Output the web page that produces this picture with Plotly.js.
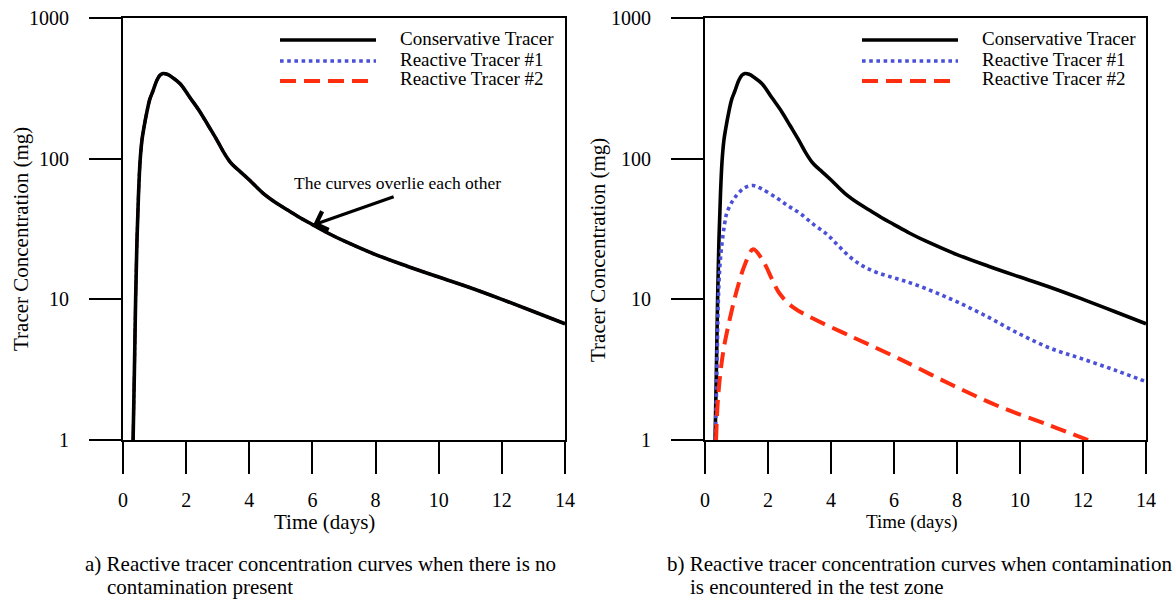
<!DOCTYPE html>
<html>
<head>
<meta charset="utf-8">
<script src="https://cdn.plot.ly/plotly-3.0.1.min.js"></script>
<style>html,body{margin:0;padding:0;background:#fff;}#chart{width:1175px;height:600px;}</style>
</head>
<body>
<div id="chart"></div>
<script>
// ---- data ----
const xTicks = [0, 2, 4, 6, 8, 10, 12, 14];
const yTickVals = [1, 10, 100, 1000];
const yTickText = ['1', '10', '100', '1000'];
const seriesNames = ['Conservative Tracer', 'Reactive Tracer #1', 'Reactive Tracer #2'];

const daysCons = [0.32, 0.36, 0.40, 0.44, 0.49, 0.54, 0.60, 0.65, 0.76, 0.85, 0.95, 1.07, 1.17, 1.27, 1.40, 1.55, 1.81, 2.12, 2.44, 2.70, 2.98, 3.20, 3.39, 3.55, 3.71, 4.02, 4.43, 4.88, 5.30, 5.61, 6.0, 6.5, 7.0, 8.0, 9.0, 10, 11, 12, 13, 14];
const concCons = [1, 3, 10, 25, 55, 95, 135, 160, 217, 265, 303, 360, 392, 403, 398, 380, 341, 272, 215, 172, 135, 110, 95, 87, 81, 70, 57, 48, 42, 38, 34, 29.5, 26, 20.8, 17.2, 14.4, 12.1, 10, 8.2, 6.7];

const daysR1 = [0.32, 0.36, 0.39, 0.42, 0.47, 0.54, 0.62, 0.69, 0.85, 1.01, 1.25, 1.53, 1.80, 2.28, 2.65, 3.02, 3.45, 3.87, 4.20, 4.60, 5.00, 5.46, 6.10, 6.73, 7.78, 8.83, 9.9, 10.95, 12.0, 13.08, 14];
const concR1 = [1, 2, 4.5, 9.3, 17, 25, 34, 41, 49, 55, 62, 64.4, 61, 52.5, 46, 40.8, 34, 29, 24.5, 20, 17.3, 15.5, 14, 12.6, 10.1, 7.8, 5.8, 4.5, 3.76, 3.1, 2.6];

const daysR2 = [0.35, 0.42, 0.58, 0.79, 1.01, 1.28, 1.53, 1.84, 2.16, 2.38, 2.79, 3.43, 4.38, 4.92, 6.19, 7.78, 9.37, 10.95, 12.16];
const concR2 = [1, 2.07, 4.26, 7.3, 11.6, 18, 22.7, 18.8, 13.4, 10.9, 8.8, 7.3, 5.8, 5.1, 3.76, 2.5, 1.72, 1.27, 1.0];

// annotation point (panel a): arrow points at the curve
const noteHead = {x: 6.02, y: 33.8};
const noteTail = {x: 8.62, y: 54};
const noteText = {x: 8.68, y: 67};

// ---- styling ----
const W = 1175, H = 600;
const px = v => v / W;
const py = v => 1 - v / H;
const FONT = 'Liberation Serif, "Times New Roman", Times, serif';
const BLACK = '#000000', BLUE = '#4a50d8', RED = '#ff2d0f';
const DASH_RED = '16px,8px';

const styles = [
  {color: BLACK, width: 3.6, dash: 'solid'},
  {color: BLUE, width: 3.6, dash: 'dot'},
  {color: RED, width: 4, dash: DASH_RED}
];

function tr(x, y, s, xa, ya, name, widthOverride) {
  return {
    x: x, y: y, type: 'scatter', mode: 'lines', name: name, showlegend: false,
    xaxis: xa, yaxis: ya, hoverinfo: 'x+y+name',
    line: {color: s.color, width: widthOverride || s.width, dash: s.dash, shape: 'spline', smoothing: 1.0}
  };
}

const traces = [
  // panel a: reactive tracers overlie the conservative one (drawn beneath it)
  tr(daysCons, concCons, styles[2], 'x', 'y', seriesNames[2], 3),
  tr(daysCons, concCons, styles[1], 'x', 'y', seriesNames[1], 3),
  tr(daysCons, concCons, styles[0], 'x', 'y', seriesNames[0]),
  // panel b
  tr(daysCons, concCons, styles[0], 'x2', 'y2', seriesNames[0]),
  tr(daysR1, concR1, styles[1], 'x2', 'y2', seriesNames[1]),
  tr(daysR2, concR2, styles[2], 'x2', 'y2', seriesNames[2])
];

function xAxis(l, r, anchor) {
  return {
    domain: [px(l), px(r)], anchor: anchor, range: [0, 14],
    tickvals: xTicks, ticktext: xTicks.map(String),
    ticks: 'outside', ticklen: 32, tickwidth: 2, tickcolor: BLACK,
    showline: true, mirror: true, linewidth: 2, linecolor: BLACK,
    showgrid: false, zeroline: false, automargin: false,
    ticklabelstandoff: 9,
    tickfont: {family: FONT, size: 20, color: BLACK}
  };
}
function yAxis(anchor) {
  return {
    domain: [py(440), py(18)], anchor: anchor, type: 'log', range: [0, 3],
    tickvals: yTickVals, ticktext: yTickText,
    ticks: 'outside', ticklen: 32, tickwidth: 2, tickcolor: BLACK,
    showline: true, mirror: true, linewidth: 2, linecolor: BLACK,
    showgrid: false, zeroline: false, automargin: false,
    ticklabelstandoff: 16,
    tickfont: {family: FONT, size: 20, color: BLACK}
  };
}

const annotations = [];
const shapes = [];
function txt(text, x, y, size, opts) {
  annotations.push(Object.assign({
    text: text, xref: 'paper', yref: 'paper', x: px(x), y: py(y),
    xanchor: 'center', yanchor: 'middle', showarrow: false,
    font: {family: FONT, size: size, color: BLACK}
  }, opts || {}));
}

// axis titles
txt('Tracer Concentration (mg)', 21, 239, 21, {textangle: -90});
txt('Tracer Concentration (mg)', 598, 250, 21, {textangle: -90});
txt('Time (days)', 324, 522, 21);
txt('Time (days)', 912, 522, 19);

// captions
txt('a) Reactive tracer concentration curves when there is no', 83, 564, 21, {xanchor: 'left'});
txt('contamination present', 105, 587, 21, {xanchor: 'left'});
txt('b) Reactive tracer concentration curves when contamination', 665, 564, 21, {xanchor: 'left'});
txt('is encountered in the test zone', 688, 587, 21, {xanchor: 'left'});

// legends (one per panel)
const legendRows = [40, 61, 81];
[[280, 398], [862, 980]].forEach(function (p) {
  seriesNames.forEach(function (nm, i) {
    shapes.push({
      type: 'line', xref: 'paper', yref: 'paper',
      x0: px(p[0]), x1: px(p[0] + 96), y0: py(legendRows[i]), y1: py(legendRows[i]),
      line: {color: styles[i].color, width: styles[i].width, dash: styles[i].dash}
    });
    txt(nm, p[1], legendRows[i] - 2, 19, {xanchor: 'left'});
  });
});

// note with arrow in panel a
annotations.push({
  text: 'The curves overlie each other', xref: 'x', yref: 'y',
  x: noteText.x, y: Math.log10(noteText.y), showarrow: false,
  xanchor: 'center', yanchor: 'middle',
  font: {family: FONT, size: 17.5, color: BLACK}
});
annotations.push({
  text: '', xref: 'x', yref: 'y', axref: 'x', ayref: 'y',
  x: noteHead.x, y: Math.log10(noteHead.y),
  ax: noteTail.x, ay: Math.log10(noteTail.y),
  showarrow: true, arrowhead: 4, arrowsize: 1.2, arrowwidth: 3.2, arrowcolor: BLACK
});

const layout = {
  width: W, height: H,
  margin: {l: 0, r: 0, t: 0, b: 0, pad: 0},
  paper_bgcolor: '#ffffff', plot_bgcolor: '#ffffff',
  showlegend: false,
  font: {family: FONT, color: BLACK},
  xaxis: xAxis(123, 565, 'y'),
  yaxis: yAxis('x'),
  xaxis2: xAxis(705, 1146, 'y2'),
  yaxis2: yAxis('x2'),
  annotations: annotations,
  shapes: shapes
};

Plotly.newPlot('chart', traces, layout, {displayModeBar: false, staticPlot: true});
</script>
</body>
</html>
